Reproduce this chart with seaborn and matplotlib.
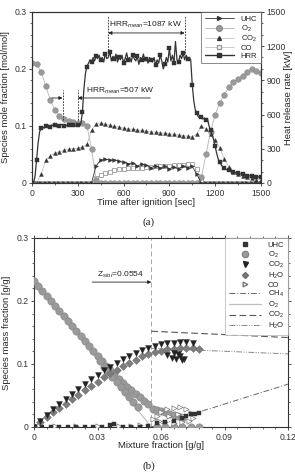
import matplotlib
matplotlib.use("Agg")
import matplotlib.pyplot as plt
import seaborn as sns
from matplotlib.lines import Line2D
from matplotlib.ticker import MultipleLocator, AutoMinorLocator

# ---------------- (a) time series ----------------
t_hrr = list(range(0, 1501, 10))
hrr = [0, 0, 60, 200, 350, 450, 480, 490, 480, 500,
       495, 505, 490, 510, 500, 505, 495, 510, 500, 515,
       505, 495, 510, 500, 505, 515, 500, 510, 495, 505,
       510, 500, 520, 620, 820, 960, 1020, 1050, 1080, 1060,
       1100, 1070, 1110, 1090, 1120, 1080, 1100, 1060, 1130, 1090,
       1100, 1150, 1070, 1110, 1090, 1130, 1060, 1100, 1080, 1120,
       1050, 1090, 1140, 1080, 1100, 1060, 1120, 1090, 1070, 1110,
       1040, 1100, 1080, 1130, 1070, 1090, 1050, 1100, 1080, 1060,
       1100, 1030, 1080, 1050, 1120, 1070, 1000, 1040, 1100, 1060,
       1180, 1070, 1120, 1050, 1240, 1080, 1060, 1120, 1090, 1140,
       1080, 1120, 1090, 1100, 1080, 860, 720, 640, 610, 580,
       570, 580, 560, 570, 550, 560, 500, 460, 420, 380,
       320, 260, 210, 180, 160, 140, 130, 120, 115, 110,
       105, 100, 95, 90, 90, 85, 80, 80, 75, 70,
       70, 65, 65, 60, 60, 55, 55, 50, 55, 50,
       50]

t_sp = list(range(0, 1501, 30))
o2 = [0.210, 0.208, 0.195, 0.170, 0.145, 0.128, 0.118, 0.112, 0.108, 0.107,
      0.106, 0.105, 0.100, 0.060, 0.005,
      0, 0, 0, 0, 0, 0, 0, 0, 0, 0, 0, 0, 0, 0, 0, 0, 0, 0, 0, 0, 0, 0,
      0.010, 0.050, 0.090, 0.120, 0.140, 0.155, 0.168, 0.177, 0.183, 0.188,
      0.194, 0.200, 0.197, 0.192]
co2 = [0.000, 0.000, 0.015, 0.040, 0.048, 0.052, 0.055, 0.057, 0.059, 0.060,
       0.061, 0.063, 0.068, 0.092, 0.104, 0.105, 0.103, 0.101, 0.099, 0.098,
       0.096, 0.095, 0.094, 0.093, 0.092, 0.091, 0.090, 0.089, 0.088, 0.087,
       0.086, 0.085, 0.084, 0.083, 0.082, 0.081, 0.086, 0.100, 0.095, 0.085,
       0.075, 0.062, 0.042, 0.028, 0.020, 0.015, 0.012, 0.010, 0.008, 0.006,
       0.005]
co = [0, 0, 0, 0, 0, 0, 0, 0, 0, 0, 0, 0, 0, 0,
      0.008, 0.014, 0.018, 0.020, 0.022, 0.024, 0.025, 0.026, 0.026, 0.027,
      0.027, 0.028, 0.028, 0.029, 0.029, 0.030, 0.030, 0.031, 0.032, 0.032,
      0.033, 0.033, 0.025, 0.003,
      0, 0, 0, 0, 0, 0, 0, 0, 0, 0, 0, 0, 0]
uhc = [0, 0, 0, 0, 0, 0, 0, 0, 0, 0, 0, 0, 0, 0,
       0.030, 0.040, 0.042, 0.040, 0.041, 0.038, 0.036, 0.034, 0.035, 0.030,
       0.033, 0.031, 0.027, 0.030, 0.026, 0.029, 0.025, 0.028, 0.024, 0.030,
       0.027, 0.029, 0.015, 0.000,
       0, 0, 0, 0, 0, 0, 0, 0, 0, 0, 0, 0, 0]
x_ticks_a = [0, 300, 600, 900, 1200, 1500]
y_ticks_a = [0, 0.1, 0.2, 0.3]
y_labels_a = ['0', '0.1', '0.2', '0.3']
hrr_ticks = [0, 300, 600, 900, 1200, 1500]

# ---------------- (b) mixture fraction ----------------
z_o2 = [0.000, 0.002, 0.004, 0.006, 0.008, 0.010, 0.012, 0.014, 0.016, 0.018,
        0.020, 0.022, 0.024, 0.026, 0.028, 0.030, 0.032, 0.034, 0.036, 0.038,
        0.040, 0.042, 0.044, 0.046, 0.048, 0.050, 0.052, 0.054,
        0.031, 0.033, 0.035, 0.037, 0.039, 0.041, 0.043, 0.045, 0.047, 0.049,
        0.056, 0.058, 0.060, 0.062, 0.064, 0.066, 0.068, 0.070,
        0.058, 0.062, 0.066, 0.070, 0.074, 0.078]
y_o2 = [0.232, 0.224, 0.216, 0.208, 0.200, 0.192, 0.184, 0.176, 0.168, 0.160,
        0.152, 0.144, 0.136, 0.128, 0.120, 0.112, 0.104, 0.097, 0.090, 0.083,
        0.076, 0.070, 0.064, 0.058, 0.052, 0.047, 0.042, 0.037,
        0.104, 0.095, 0.087, 0.079, 0.071, 0.063, 0.055, 0.047, 0.039, 0.031,
        0.028, 0.027, 0.025, 0.023, 0.021, 0.019, 0.017, 0.015,
        0, 0, 0, 0, 0, 0]
z_co2 = [0.000, 0.003, 0.006, 0.009, 0.012, 0.015, 0.018, 0.021, 0.024, 0.027,
         0.030, 0.033, 0.036, 0.039, 0.042, 0.045, 0.048, 0.051, 0.054, 0.057,
         0.060, 0.063, 0.066, 0.069, 0.072, 0.075,
         0.063, 0.065, 0.067, 0.069, 0.071, 0.068, 0.066, 0.070]
y_co2 = [0.000, 0.010, 0.019, 0.028, 0.036, 0.045, 0.053, 0.061, 0.069, 0.076,
         0.083, 0.090, 0.096, 0.102, 0.108, 0.113, 0.118, 0.122, 0.126, 0.129,
         0.131, 0.133, 0.134, 0.135, 0.135, 0.134,
         0.115, 0.110, 0.108, 0.112, 0.108, 0.116, 0.117, 0.106]
z_h2o = [0.000, 0.003, 0.006, 0.009, 0.012, 0.015, 0.018, 0.021, 0.024, 0.027,
         0.030, 0.033, 0.036, 0.039, 0.042, 0.045, 0.048, 0.051, 0.054, 0.057,
         0.060, 0.063, 0.066, 0.069, 0.072, 0.075, 0.078]
y_h2o = [0.000, 0.008, 0.016, 0.023, 0.030, 0.037, 0.044, 0.051, 0.058, 0.065,
         0.072, 0.079, 0.085, 0.091, 0.097, 0.102, 0.107, 0.112, 0.116, 0.119,
         0.121, 0.123, 0.124, 0.125, 0.125, 0.125, 0.124]
z_uhc = [0.000, 0.004, 0.008, 0.012, 0.016, 0.020, 0.024, 0.028, 0.032, 0.036,
         0.038, 0.042, 0.046, 0.050, 0.054, 0.058, 0.062, 0.066, 0.070, 0.072,
         0.074, 0.076, 0.078]
y_uhc = [0, 0, 0, 0, 0, 0, 0, 0, 0, 0.003,
         0.004, 0, 0, 0, 0.002, 0.006, 0.008, 0.010, 0.014, 0.018,
         0.020, 0.021, 0.022]
z_co = [0.010, 0.020, 0.030, 0.040, 0.046, 0.050,
        0.056, 0.058, 0.060, 0.063, 0.066, 0.069, 0.072, 0.074, 0.075, 0.073,
        0.070, 0.066, 0.062, 0.059, 0.068, 0.064, 0.071]
y_co = [0.001, 0.001, 0.001, 0.001, 0.002, 0.003,
        0.012, 0.018, 0.024, 0.028, 0.030, 0.031, 0.028, 0.022, 0.015, 0.010,
        0.008, 0.007, 0.008, 0.010, 0.020, 0.018, 0.018]

# equilibrium lines
z_st = 0.0554
z_lean = [0.0, z_st]
o2_eq = [0.233, 0.0]
z_rich = [z_st, 0.12]
ch4_eq = [0.0, 0.068]
co2_eq = [0.152, 0.142]
h2o_eq = [0.125, 0.116]
x_ticks_b = [0, 0.03, 0.06, 0.09, 0.12]
x_labels_b = ['0', '0.03', '0.06', '0.09', '0.12']
y_ticks_b = [0, 0.1, 0.2, 0.3]

sns.set_style("ticks")
plt.rcParams['font.family'] = ['Liberation Sans', 'DejaVu Sans']
plt.rcParams['mathtext.fontset'] = 'custom'
plt.rcParams['mathtext.rm'] = 'Liberation Sans'
plt.rcParams['mathtext.it'] = 'Liberation Sans:italic'
plt.rcParams['axes.edgecolor'] = '#333333'
plt.rcParams['axes.linewidth'] = 0.8
plt.rcParams['xtick.color'] = '#333333'
plt.rcParams['ytick.color'] = '#333333'
plt.rcParams['text.color'] = '#222222'

dark = '#333333'
grey = '#9a9a9a'
light = '#b5b5b5'
LAB = 6.8

fig = plt.figure(figsize=(2.95, 4.74), dpi=100)

# ======================= panel (a) =======================
ax = fig.add_axes([0.1085, 0.614, 0.776, 0.361])
ax2 = ax.twinx()

sns.lineplot(x=t_sp, y=co, ax=ax, color=light, lw=0.5, marker='s', ms=2.6,
             markerfacecolor='white', markeredgecolor=grey, mew=0.6, zorder=2)
sns.lineplot(x=t_sp, y=uhc, ax=ax, color=dark, lw=0.6, marker='>', ms=2.8,
             markerfacecolor=dark, markeredgecolor=dark, mew=0.3, zorder=3)
sns.lineplot(x=t_sp, y=co2, ax=ax, color=light, lw=0.5, marker='^', ms=2.8,
             markerfacecolor=dark, markeredgecolor=dark, mew=0.3, zorder=3)
sns.lineplot(x=t_sp, y=o2, ax=ax, color=light, lw=0.6, marker='o', ms=4,
             markerfacecolor=grey, markeredgecolor='#8a8a8a', mew=0.4, zorder=2)
sns.lineplot(x=t_hrr, y=hrr, ax=ax2, color='#333333', lw=0.9, marker='s', ms=3,
             markevery=3, markerfacecolor='#333333', markeredgecolor='#333333',
             mew=0.3, zorder=3)

ax.set_xlim(0, 1500)
ax.set_ylim(0, 0.3)
ax2.set_ylim(0, 1500)
ax.set_xticks(x_ticks_a)
ax.set_yticks(y_ticks_a, y_labels_a)
ax2.set_yticks(hrr_ticks)
ax.xaxis.set_minor_locator(MultipleLocator(150))
ax.yaxis.set_minor_locator(MultipleLocator(0.02))
ax2.yaxis.set_minor_locator(MultipleLocator(100))
for a in (ax, ax2):
    a.tick_params(which='major', labelsize=6.2, length=2.5, width=0.6, pad=1.5)
    a.tick_params(which='minor', length=1.5, width=0.5)
ax.set_xlabel('Time after ignition [sec]', fontsize=LAB)
ax.set_ylabel('Species mole fraction [mol/mol]', fontsize=LAB)
ax2.set_ylabel('Heat release rate [kW]', fontsize=LAB, rotation=90)
ax.xaxis.set_label_coords(0.5, -0.085)
ax.yaxis.set_label_coords(-0.095, 0.5)
ax2.yaxis.set_label_coords(1.1, 0.5)
sns.despine(ax=ax, top=False, right=False)

# annotations (a)
ann = dict(color='#222222', lw=0.6, ls=(0, (2, 1.5)))
ax.plot([500, 500], [0.222, 0.292], **ann)
ax.plot([1000, 1000], [0.228, 0.292], **ann)
ax.plot([200, 200], [0.110, 0.163], **ann)
ax.plot([300, 300], [0.110, 0.163], **ann)
ax.annotate('', xy=(1000, 0.263), xytext=(500, 0.263),
            arrowprops=dict(arrowstyle='<|-|>', lw=0.6, color='#222222',
                            mutation_scale=5, shrinkA=0, shrinkB=0))
ax.text(745, 0.268, 'HRR$_{mean}$=1087 kW', fontsize=6, ha='center', va='bottom')
ax.annotate('', xy=(200, 0.149), xytext=(130, 0.149),
            arrowprops=dict(arrowstyle='-|>', lw=0.6, color='#222222',
                            mutation_scale=5, shrinkA=0, shrinkB=0))
ax.annotate('', xy=(300, 0.149), xytext=(775, 0.149),
            arrowprops=dict(arrowstyle='-|>', lw=0.6, color='#222222',
                            mutation_scale=5, shrinkA=0, shrinkB=0))
ax.text(355, 0.152, 'HRR$_{mean}$=507 kW', fontsize=6, ha='left', va='bottom')

h_a = [Line2D([], [], color=dark, lw=0.6, marker='>', ms=2.8, mfc=dark, mec=dark),
       Line2D([], [], color=light, lw=0.6, marker='o', ms=4, mfc=grey, mec='#8a8a8a'),
       Line2D([], [], color=light, lw=0.5, marker='^', ms=2.8, mfc=dark, mec=dark),
       Line2D([], [], color=light, lw=0.5, marker='s', ms=2.6, mfc='white', mec=grey),
       Line2D([], [], color='#333333', lw=1.0, marker='s', ms=3, mfc='#333333', mec='#333333')]
lab_a = ['UHC', 'O$_2$', 'CO$_2$', 'CO', 'HRR']
leg = ax2.legend(h_a, lab_a, loc='upper right', bbox_to_anchor=(1, 1),
                 borderaxespad=0, fontsize=5.5, handlelength=3.8,
                 labelspacing=0.05, handletextpad=0.9, borderpad=0.5,
                 frameon=True, fancybox=False, edgecolor='#555555')
leg.get_frame().set_linewidth(0.6)

fig.text(0.505, 0.532, '(a)', fontsize=8, ha='center', va='center',
         family=['Liberation Serif'])

# ======================= panel (b) =======================
bx = fig.add_axes([0.1153, 0.0992, 0.861, 0.3987])

bx.plot([z_st, z_st], [0, 0.3], color='#aaaaaa', lw=0.7, ls=(0, (5, 3)), zorder=1)
sns.lineplot(x=z_lean, y=o2_eq, ax=bx, color='#bdbdbd', lw=0.8, ls='-', zorder=1)
sns.lineplot(x=z_rich, y=ch4_eq, ax=bx, color='#666666', lw=0.7,
             ls=(0, (6, 2, 1, 2)), zorder=1)
sns.lineplot(x=z_rich, y=co2_eq, ax=bx, color='#555555', lw=0.8,
             ls=(0, (6, 3)), zorder=1)
sns.lineplot(x=z_rich, y=h2o_eq, ax=bx, color='#888888', lw=0.7,
             ls=(0, (6, 1.5, 1, 1.5, 1, 1.5)), zorder=1)

sns.scatterplot(x=z_o2, y=y_o2, ax=bx, marker='o', s=28, color=grey,
                edgecolor='#858585', linewidth=0.4, zorder=3)
sns.scatterplot(x=z_h2o, y=y_h2o, ax=bx, marker='D', s=16, color='#7d7d7d',
                edgecolor='#6a6a6a', linewidth=0.3, zorder=4)
sns.scatterplot(x=z_co2, y=y_co2, ax=bx, marker='v', s=18, color='#222222',
                edgecolor='#222222', linewidth=0.3, zorder=5)
sns.scatterplot(x=z_co, y=y_co, ax=bx, marker='>', s=14, color='white',
                edgecolor='#777777', linewidth=0.5, zorder=5)
sns.scatterplot(x=z_uhc, y=y_uhc, ax=bx, marker='s', s=9, color='#333333',
                edgecolor='#333333', linewidth=0.3, zorder=6)

bx.set_xlim(0, 0.12)
bx.set_ylim(0, 0.3)
bx.set_xticks(x_ticks_b, x_labels_b)
bx.set_yticks(y_ticks_b, y_labels_a)
bx.xaxis.set_minor_locator(AutoMinorLocator(5))
bx.yaxis.set_minor_locator(AutoMinorLocator(5))
bx.tick_params(top=True, right=True, which='both')
bx.tick_params(which='major', labelsize=6.2, length=2.5, width=0.6, pad=1.5)
bx.tick_params(which='minor', length=1.5, width=0.5)
bx.set_xlabel('Mixture fraction [g/g]', fontsize=LAB)
bx.set_ylabel('Species mass fraction [g/g]', fontsize=LAB)
bx.xaxis.set_label_coords(0.5, -0.075)
bx.yaxis.set_label_coords(-0.09, 0.5)
sns.despine(ax=bx, top=False, right=False)

bx.annotate('', xy=(z_st, 0.23), xytext=(0.0275, 0.23),
            arrowprops=dict(arrowstyle='-|>', lw=0.6, color='#222222',
                            mutation_scale=5, shrinkA=0, shrinkB=0))
bx.text(0.0296, 0.233, 'Z$_{stoi}$=0.0554', fontsize=6, ha='left', va='bottom')

h_b = [Line2D([], [], ls='', marker='s', ms=2.8, mfc='#333333', mec='#333333'),
       Line2D([], [], ls='', marker='o', ms=4.5, mfc=grey, mec='#858585'),
       Line2D([], [], ls='', marker='v', ms=3.6, mfc='#222222', mec='#222222'),
       Line2D([], [], ls='', marker='D', ms=3, mfc='#7d7d7d', mec='#6a6a6a'),
       Line2D([], [], ls='', marker='>', ms=3.4, mfc='white', mec='#777777'),
       Line2D([], [], color='#666666', lw=0.7, ls=(0, (6, 2, 1, 2))),
       Line2D([], [], color='#bdbdbd', lw=0.9, ls='-'),
       Line2D([], [], color='#555555', lw=0.8, ls=(0, (6, 3))),
       Line2D([], [], color='#888888', lw=0.7, ls=(0, (6, 1.5, 1, 1.5, 1, 1.5)))]
lab_b = ['UHC', 'O$_2$', 'CO$_2$', 'H$_2$O', 'CO', 'CH$_4$', 'O$_2$', 'CO$_2$', 'H$_2$O']
legb = bx.legend(h_b, lab_b, loc='upper right', bbox_to_anchor=(1, 1),
                 borderaxespad=0, fontsize=5.5, handlelength=4.2,
                 labelspacing=0.05, handletextpad=0.9, borderpad=0.5,
                 frameon=True, fancybox=False, edgecolor='#aaaaaa')
legb.get_frame().set_linewidth(0.6)

fig.text(0.505, 0.017, '(b)', fontsize=8, ha='center', va='center',
         family=['Liberation Serif'])

fig.savefig('out.png', dpi=100)
